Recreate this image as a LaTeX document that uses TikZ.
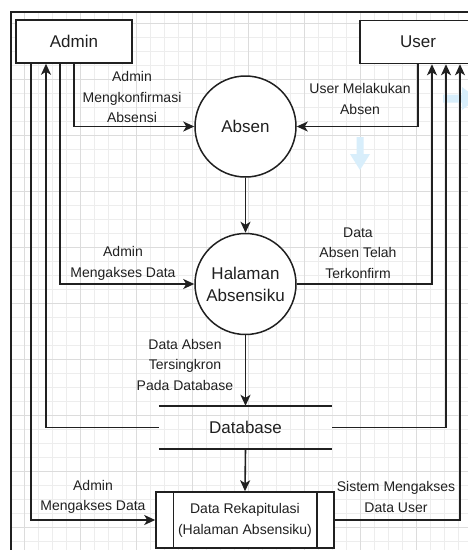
\documentclass[tikz,border=0pt]{standalone}
\usepackage{fontspec}
\setmainfont{Liberation Sans}
\usetikzlibrary{arrows.meta}

\definecolor{gridminor}{HTML}{EDEDED}
\definecolor{gridmajor}{HTML}{DCDCDC}
\definecolor{ink}{HTML}{202020}
\definecolor{hoverblue}{HTML}{D8EEFB}

\tikzset{
	entity/.style={draw=ink, fill=white, line width=1.5pt, minimum width=116pt, minimum height=43pt, font=\fontsize{17}{20}\selectfont, text=ink},
	process/.style={draw=ink, fill=white, line width=1.5pt, circle, minimum size=101pt, inner sep=0pt, align=center, font=\fontsize{17}{22}\selectfont, text=ink},
	flow/.style={ink, line width=1.6pt, -{Stealth[length=11pt,width=10pt,inset=3pt]}},
	lbl/.style={align=center, inner sep=0pt, font=\fontsize{14}{20.5}\selectfont, text=ink},
}

\begin{document}
\begin{tikzpicture}[x=1pt,y=-1pt]
\pgfmathsetmacro{\gridw}{14}
\useasboundingbox (0,0) rectangle (468,550);
\clip (0,0) rectangle (468,550);
\fill[white] (0,0) rectangle (468,550);

% grid
\foreach \i in {1,...,32}{
	\draw[gridminor, line width=0.6pt] (10 + \i*\gridw, 12) -- (10 + \i*\gridw, 550);
}
\foreach \i in {1,...,38}{
	\draw[gridminor, line width=0.6pt] (11, 9 + \i*\gridw) -- (468, 9 + \i*\gridw);
}
\foreach \i in {0,...,7}{
	\draw[gridmajor, line width=0.6pt] (24 + \i*4*\gridw, 12) -- (24 + \i*4*\gridw, 550);
}
\foreach \i in {0,...,9}{
	\draw[gridmajor, line width=0.6pt] (11, 23 + \i*4*\gridw) -- (468, 23 + \i*4*\gridw);
}
\draw[ink, line width=1.5pt] (11,560) -- (11,12) -- (480,12);

\fill[hoverblue] (356.5,137) -- (363.5,137) -- (363.5,154) -- (370,154) -- (360,170) -- (350,154) -- (356.5,154) -- cycle;
\fill[hoverblue] (443,94.5) -- (462,94.5) -- (462,87) -- (477,98.5) -- (462,110) -- (462,102.5) -- (443,102.5) -- cycle;

\node[entity] (admin) at (74,41.5) {Admin};
\node[entity] (user) at (418,42) {User};
\node[process] (absen) at (245.5,126.5) {Absen};
\node[process] (halaman) at (245.5,284) {Halaman\\Absensiku};
\node[minimum width=173pt, minimum height=43pt, font=\fontsize{17}{20}\selectfont, text=ink] (db) at (245.5,427.5) {Database};
\draw[ink, line width=1.5pt] (db.north west) -- (db.north east) (db.south west) -- (db.south east);
\node[entity, minimum width=178pt, minimum height=56pt, align=center, font=\fontsize{14}{21}\selectfont] (rekap) at (245,520) {Data Rekapitulasi\\(Halaman Absensiku)};
\draw[ink, line width=1.5pt] ([xshift=18pt]rekap.north west) -- ([xshift=18pt]rekap.south west) ([xshift=-18pt]rekap.north east) -- ([xshift=-18pt]rekap.south east);

\draw[flow] (admin.south) |- (absen.west);
\draw[flow] ([xshift=-14pt]admin.south) |- (halaman.west);
\draw[flow] (db.west) -| ([xshift=-28pt]admin.south);
\draw[flow] ([xshift=-43pt]admin.south) |- (rekap.west);
\draw[flow] (user.south) |- (absen.east);
\draw[flow] (halaman.east) -| ([xshift=14pt]user.south);
\draw[flow] (db.east) -| ([xshift=28pt]user.south);
\draw[flow] (rekap.east) -| ([xshift=42pt]user.south);
\draw[flow] (absen) -- (halaman);
\draw[flow] (halaman) -- (db.north);
\draw[flow] (db.south) -- (rekap.north);

\node[lbl] (lblkonfirm) at (132,97) {Admin\\Mengkonfirmasi\\Absensi};
\node[lbl] (lbluser) at (360,99) {User Melakukan\\Absen};
\node[lbl] (lblakses) at (123,263.5) {Admin\\Mengakses Data};
\node[lbl] (lblterkonfirm) at (358,253) {Data\\Absen Telah\\Terkonfirm};
\node[lbl] (lblsinkron) at (185,364.5) {Data Absen\\Tersingkron\\Pada Database};
\node[lbl] (lblrekap) at (93,497) {Admin\\Mengakses Data};
\node[lbl] (lblsistem) at (396,497) {Sistem Mengakses\\Data User};
\end{tikzpicture}
\end{document}
